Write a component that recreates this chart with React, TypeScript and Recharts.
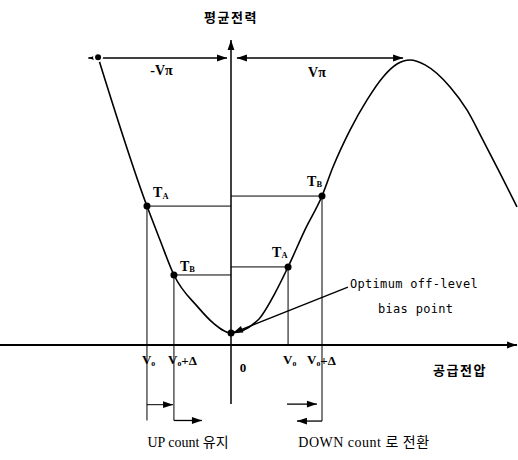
import { ComposedChart, Line, XAxis, YAxis, ReferenceLine, ReferenceDot } from "recharts";

// transfer curve: bias voltage (in units of Vπ) vs average power (normalised)
const curveVolt = [
  -0.764, -0.483, -0.408, -0.328, -0.19, -0.103, 0, 0.155, 0.253, 0.328, 0.425, 0.523,
  0.586, 0.684, 0.782, 0.874, 0.954, 1.029, 1.115, 1.259, 1.356, 1.448, 1.546, 1.644,
];
const curvePower = [
  1.003, 0.484, 0.366, 0.244, 0.132, 0.077, 0.042, 0.087, 0.181, 0.272, 0.401, 0.519,
  0.62, 0.749, 0.854, 0.934, 0.979, 0.993, 0.976, 0.899, 0.819, 0.714, 0.599, 0.481,
];

// operating points: TA / TB on both slopes, plus the optimum bias point
const pointVolt = [-0.483, -0.328, 0, 0.328, 0.523];
const pointPower = [0.484, 0.244, 0.042, 0.272, 0.519];

// Vπ reference level
const vPiLevel = 1.0;

const data = curveVolt.map((v, i) => ({ v, p: curvePower[i] }));

const X_DOMAIN = [-231 / 174, 287 / 174];
const Y_DOMAIN = [-115 / 287, 345 / 287];

const SERIF = "'Liberation Serif', 'Noto Sans CJK KR', serif";
const KR = "'Noto Sans CJK KR', sans-serif";
const MONO = "'DejaVu Sans Mono', monospace";

type Heads = "none" | "start" | "end" | "both";

const arrowShape = (heads: Heads, width = 1) => (p: any) => {
  const { x1, y1, x2, y2 } = p;
  const dx = x2 - x1;
  const dy = y2 - y1;
  const len = Math.hypot(dx, dy) || 1;
  const ux = dx / len;
  const uy = dy / len;
  const head = (tx: number, ty: number, ax: number, ay: number) => {
    const L = 10;
    const W = 3.4;
    const bx = tx - ax * L;
    const by = ty - ay * L;
    return (
      <polygon
        points={`${tx},${ty} ${bx - ay * W},${by + ax * W} ${bx + ay * W},${by - ax * W}`}
        fill="#000"
      />
    );
  };
  return (
    <g>
      <line x1={x1} y1={y1} x2={x2} y2={y2} stroke="#000" strokeWidth={width} />
      {(heads === "end" || heads === "both") && head(x2, y2, ux, uy)}
      {(heads === "start" || heads === "both") && head(x1, y1, -ux, -uy)}
    </g>
  );
};

interface Lbl {
  x: number;
  y: number;
  text: string;
  sub?: string;
  tail?: string;
  font: string;
  size: number;
  weight?: number;
  anchor?: "start" | "middle" | "end";
  spacing?: number;
}

const labels: Lbl[] = [
  { x: 0, y: 1.146, text: "평균전력", font: KR, size: 13, weight: 700, anchor: "middle", spacing: 1.5 },
  { x: -0.399, y: 0.955, text: "-Vπ", font: SERIF, size: 14, weight: 700, anchor: "middle" },
  { x: 0.494, y: 0.951, text: "Vπ", font: SERIF, size: 14, weight: 700, anchor: "middle" },
  { x: -0.448, y: 0.53, text: "T", sub: "A", font: SERIF, size: 14, weight: 700 },
  { x: -0.293, y: 0.275, text: "T", sub: "B", font: SERIF, size: 14, weight: 700 },
  { x: 0.236, y: 0.324, text: "T", sub: "A", font: SERIF, size: 14, weight: 700 },
  { x: 0.437, y: 0.571, text: "T", sub: "B", font: SERIF, size: 14, weight: 700 },
  { x: 0.684, y: 0.213, text: "Optimum off-level", font: MONO, size: 12, spacing: 0.3 },
  { x: 0.845, y: 0.125, text: "bias point", font: MONO, size: 12, spacing: 0.3 },
  { x: -0.512, y: -0.052, text: "V", sub: "o", font: SERIF, size: 13, weight: 700 },
  { x: -0.362, y: -0.052, text: "V", sub: "o", tail: "+Δ", font: SERIF, size: 13, weight: 700 },
  { x: 0.069, y: -0.08, text: "0", font: SERIF, size: 13, weight: 700, anchor: "middle" },
  { x: 0.299, y: -0.052, text: "V", sub: "o", font: SERIF, size: 13, weight: 700 },
  { x: 0.437, y: -0.052, text: "V", sub: "o", tail: "+Δ", font: SERIF, size: 13, weight: 700 },
  { x: 1.316, y: -0.084, text: "공급전압", font: KR, size: 13, weight: 700, anchor: "middle", spacing: 1.5 },
  { x: -0.247, y: -0.338, text: "UP count  유지", font: SERIF, size: 14, anchor: "middle" },
  { x: 0.764, y: -0.338, text: "DOWN count 로  전환", font: SERIF, size: 14, anchor: "middle", spacing: 0.5 },
];

const labelShape = (l: Lbl) => (p: any) => (
  <text
    x={p.cx}
    y={p.cy}
    dominantBaseline="central"
    textAnchor={l.anchor ?? "start"}
    fontFamily={l.font}
    fontSize={l.size}
    fontWeight={l.weight ?? 400}
    letterSpacing={l.spacing ?? 0}
    fill="#000"
  >
    {l.text}
    {l.sub && (
      <tspan fontSize={l.size * 0.6} dy={3}>
        {l.sub}
      </tspan>
    )}
    {l.tail && <tspan dy={-3}>{l.tail}</tspan>}
  </text>
);

// lower extents for guide lines and count arrows
const bottomLow = -0.263;
const bottomMid = -0.208;

export default function App() {
  const [taL, tbL, opt, taR, tbR] = pointVolt.map((v, i) => ({ x: v, y: pointPower[i] }));
  const seg = (x1: number, y1: number, x2: number, y2: number) => [
    { x: x1, y: y1 },
    { x: x2, y: y2 },
  ];
  const lines: { s: { x: number; y: number }[]; h: Heads; w?: number }[] = [
    // axes
    { s: seg(X_DOMAIN[0], 0, 1.644, 0), h: "end", w: 2 },
    { s: seg(0, -0.206, 0, 1.063), h: "end", w: 1.5 },
    // ±Vπ spans
    { s: seg(-0.82, vPiLevel, -0.023, vPiLevel), h: "both", w: 1.3 },
    { s: seg(0.034, vPiLevel, 0.989, vPiLevel), h: "both", w: 1.3 },
    // horizontal guides to the power axis
    { s: seg(taL.x, taL.y, 0, taL.y), h: "none" },
    { s: seg(tbL.x, tbL.y, 0, tbL.y), h: "none" },
    { s: seg(0, taR.y, taR.x, taR.y), h: "none" },
    { s: seg(0, tbR.y, tbR.x, tbR.y), h: "none" },
    // vertical guides
    { s: seg(taL.x, taL.y, taL.x, bottomLow), h: "none" },
    { s: seg(tbL.x, tbL.y, tbL.x, bottomLow), h: "none" },
    { s: seg(taR.x, taR.y, taR.x, 0), h: "none" },
    { s: seg(tbR.x, tbR.y, tbR.x, bottomLow - 0.002), h: "none" },
    // count arrows
    { s: seg(taL.x, bottomMid, tbL.x - 0.005, bottomMid), h: "end" },
    { s: seg(tbL.x, bottomLow, -0.167, bottomLow), h: "end", w: 1.3 },
    { s: seg(0.322, -0.206, 0.494, -0.206), h: "end", w: 1.3 },
    { s: seg(tbR.x, bottomLow - 0.002, 0.379, bottomLow - 0.002), h: "end", w: 1.3 },
    // pointer to optimum bias point
    { s: seg(0.672, 0.202, opt.x + 0.011, opt.y), h: "end", w: 1.3 },
  ];

  return (
    <div style={{ position: "absolute", left: 0, top: 0, background: "#fff" }}>
      <ComposedChart width={518} height={460} data={data} margin={{ top: 0, right: 0, bottom: 0, left: 0 }}>
        <XAxis type="number" dataKey="v" domain={X_DOMAIN} hide allowDataOverflow />
        <YAxis type="number" domain={Y_DOMAIN} hide allowDataOverflow />
        {lines.map((l, i) => (
          <ReferenceLine key={`l${i}`} segment={l.s} ifOverflow="visible" shape={arrowShape(l.h, l.w ?? 1)} />
        ))}
        <Line
          dataKey="p"
          type="monotone"
          stroke="#000"
          strokeWidth={1.6}
          dot={false}
          isAnimationActive={false}
        />
        {pointVolt.map((v, i) => (
          <ReferenceDot key={`p${i}`} x={v} y={pointPower[i]} r={3.5} fill="#000" stroke="none" ifOverflow="visible" />
        ))}
        {labels.map((l, i) => (
          <ReferenceDot key={`t${i}`} x={l.x} y={l.y} r={0} ifOverflow="visible" shape={labelShape(l)} />
        ))}
      </ComposedChart>
    </div>
  );
}
